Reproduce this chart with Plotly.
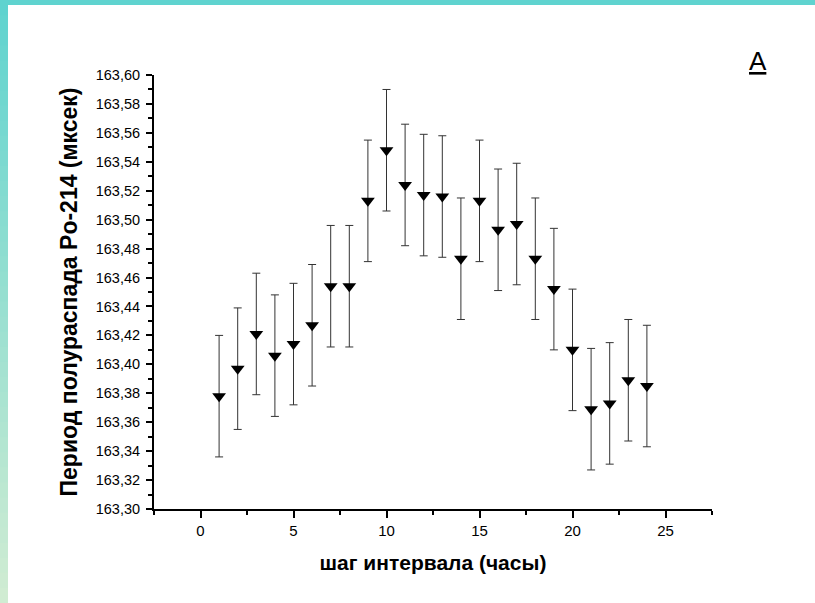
import plotly.graph_objects as go

# Data
steps = list(range(1, 25))
half_life = [163.378, 163.397, 163.421, 163.406, 163.414, 163.427, 163.454, 163.454,
             163.513, 163.548, 163.524, 163.517, 163.516, 163.473, 163.513, 163.493,
             163.497, 163.473, 163.452, 163.410, 163.369, 163.373, 163.389, 163.385]
errors = [0.042] * 24

x_title = "шаг интервала (часы)"
y_title = "Период полураспада Po-214 (мксек)"
panel_label = "<u>A</u>"

FONT = "Liberation Sans, Arial, sans-serif"

fig = go.Figure()
fig.add_trace(go.Scatter(
    x=steps, y=half_life, mode="markers",
    marker=dict(symbol="triangle-down", size=12, color="black"),
    error_y=dict(type="data", array=errors, visible=True,
                 color="#333333", thickness=1, width=4),
    showlegend=False,
))

# decorative frame (teal band on top, gradient band on left)
L, R, T, B = 154, 103, 75, 94
W, H = 815 - L - R, 603 - T - B
def px2x(px):
    return (px - L) / W
def py2y(py):
    return (603 - B - py) / H

shapes = []
shapes.append(dict(type="rect", xref="paper", yref="paper",
                   x0=px2x(0), x1=px2x(815), y0=py2y(5), y1=py2y(0),
                   fillcolor="rgb(95,211,207)", line=dict(width=0), layer="below"))
n = 40
top_c = (95, 211, 207)
bot_c = (208, 236, 210)
for i in range(n):
    t = i / (n - 1)
    c = tuple(int(round(top_c[k] + (bot_c[k] - top_c[k]) * t)) for k in range(3))
    y0p = 603 * i / n
    y1p = 603 * (i + 1) / n + 1
    shapes.append(dict(type="rect", xref="paper", yref="paper",
                       x0=px2x(0), x1=px2x(8), y0=py2y(y1p), y1=py2y(y0p),
                       fillcolor="rgb(%d,%d,%d)" % c, line=dict(width=0), layer="below"))

fig.update_layout(
    width=815, height=603,
    margin=dict(l=L, r=R, t=T, b=B),
    paper_bgcolor="white", plot_bgcolor="white",
    separators=", ",
    font=dict(family=FONT, color="black", size=12),
    shapes=shapes,
    xaxis=dict(
        range=[-2.5, 27.5], tickvals=[0, 5, 10, 15, 20, 25],
        ticks="outside", ticklen=7, tickwidth=2, tickcolor="black",
        minor=dict(tickvals=[-2.5, 2.5, 7.5, 12.5, 17.5, 22.5, 27.5],
                   ticks="outside", ticklen=4, tickwidth=2, tickcolor="black"),
        showline=True, linecolor="black", linewidth=2,
        showgrid=False, zeroline=False,
        tickfont=dict(size=15, family=FONT),
        title=dict(text="<b>" + x_title + "</b>", font=dict(size=21, family=FONT), standoff=17),
    ),
    yaxis=dict(
        range=[163.30, 163.60], dtick=0.02, tick0=163.30, tickformat=".2f",
        ticks="outside", ticklen=6, tickwidth=2, tickcolor="black",
        minor=dict(dtick=0.01, ticks="outside", ticklen=4, tickwidth=2, tickcolor="black"),
        showline=True, linecolor="black", linewidth=2,
        showgrid=False, zeroline=False,
        ticklabelstandoff=3,
        tickfont=dict(size=14.5, family=FONT),
        title=dict(text="<b>" + y_title + "</b>", font=dict(size=23, family=FONT), standoff=12),
    ),
    annotations=[dict(text=panel_label, xref="paper", yref="paper",
                      x=px2x(758), y=py2y(61), xanchor="center", yanchor="middle",
                      showarrow=False,
                      font=dict(size=26, family=FONT, color="black"))],
)

fig.write_html("out.html")
